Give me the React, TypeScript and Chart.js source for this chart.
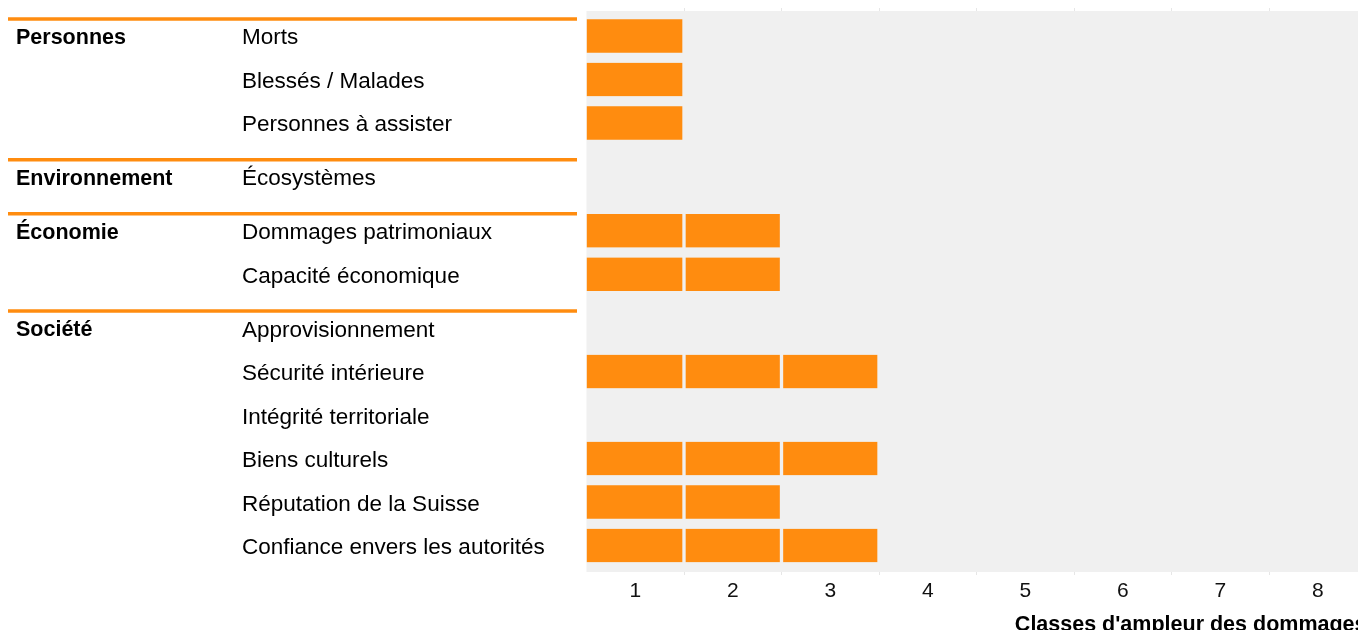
import React, { useEffect, useRef } from "react";
import { Chart, registerables } from "chart.js";

Chart.register(...registerables);

// ---- data ----
const categories = [
  "Morts",
  "Blessés / Malades",
  "Personnes à assister",
  "Écosystèmes",
  "Dommages patrimoniaux",
  "Capacité économique",
  "Approvisionnement",
  "Sécurité intérieure",
  "Intégrité territoriale",
  "Biens culturels",
  "Réputation de la Suisse",
  "Confiance envers les autorités",
];
const groupNames = ["Personnes", "Environnement", "Économie", "Société"];
const groupOfRow = [0, 0, 0, 1, 2, 2, 3, 3, 3, 3, 3, 3];
const damageClass = [1, 1, 1, 0, 2, 2, 0, 3, 0, 3, 2, 3];
const classTicks = ["1", "2", "3", "4", "5", "6", "7", "8"];
const axisTitle = "Classes d'ampleur des dommages";

// ---- style ----
const ORANGE = "#FF8C0F";
const PLOT_BG = "#F0F0F0";
const TICK_GRAY = "#E6E6E6";
const FONT = "'Liberation Sans', Arial, Helvetica, sans-serif";
const GROUP_GAP = 0.24;

const rowPos = categories.map((_, i) => i + GROUP_GAP * groupOfRow[i]);
const maxClass = Math.max(...damageClass);

export default function App() {
  const ref = useRef<HTMLCanvasElement | null>(null);

  useEffect(() => {
    const canvas = ref.current;
    if (!canvas) return;

    const datasets = [] as any[];
    for (let k = 1; k <= maxClass; k++) {
      datasets.push({
        label: "Classe " + k,
        stack: "classes",
        data: categories
          .map((_, i) => (damageClass[i] >= k ? { x: 1, y: rowPos[i] } : null))
          .filter((d) => d !== null),
        backgroundColor: ORANGE,
        borderColor: PLOT_BG,
        borderSkipped: false,
        borderWidth: (ctx: any) => ({
          top: 0,
          bottom: 0,
          left: ctx.datasetIndex === 0 ? 0 : 2,
          right: 2,
        }),
        barThickness: 33.5,
      });
    }

    const bgPlugin = {
      id: "plotBg",
      beforeDraw(chart: any) {
        const { ctx, chartArea } = chart;
        ctx.save();
        ctx.fillStyle = PLOT_BG;
        ctx.fillRect(
          chartArea.left,
          chartArea.top,
          chartArea.right - chartArea.left,
          chartArea.bottom - chartArea.top
        );
        ctx.restore();
      },
    };

    const leftPanel = {
      id: "leftPanel",
      afterDraw(chart: any) {
        const { ctx } = chart;
        const y = chart.scales.y;
        ctx.save();
        groupNames.forEach((g, gi) => {
          const first = groupOfRow.indexOf(gi);
          const cy = y.getPixelForValue(rowPos[first]);
          ctx.strokeStyle = ORANGE;
          ctx.lineWidth = 3.5;
          ctx.beginPath();
          ctx.moveTo(8, cy - 17);
          ctx.lineTo(577, cy - 17);
          ctx.stroke();
          ctx.fillStyle = "#000";
          ctx.font = "bold 21.5px " + FONT;
          ctx.textAlign = "left";
          ctx.textBaseline = "alphabetic";
          ctx.fillText(g, 16, cy + 8);
        });
        ctx.font = "22.5px " + FONT;
        ctx.fillStyle = "#000";
        categories.forEach((c, i) => {
          const cy = y.getPixelForValue(rowPos[i]);
          ctx.fillText(c, 242, cy + 8.5);
        });
        ctx.restore();
      },
    };

    const chart = new Chart(canvas, {
      type: "bar",
      data: { datasets },
      options: {
        indexAxis: "y",
        animation: false,
        responsive: false,
        devicePixelRatio: 1,
        layout: { padding: { left: 586.5, right: 13.5, top: 8, bottom: 2 } },
        plugins: {
          legend: { display: false },
          tooltip: { enabled: false },
        },
        scales: {
          y: {
            type: "linear",
            reverse: true,
            offset: false,
            min: -0.575,
            max: 12.33,
            display: false,
          },
          x: {
            type: "linear",
            position: "bottom",
            stacked: true,
            min: 0,
            max: 8,
            afterBuildTicks: (s: any) => {
              s.ticks = classTicks.map((_, i) => ({ value: i + 0.5 }));
            },
            ticks: {
              callback: (_v: any, i: number) => classTicks[i],
              color: "#111",
              font: { family: FONT, size: 21 },
              padding: 4,
              autoSkip: false,
              maxRotation: 0,
            },
            grid: {
              offset: true,
              drawOnChartArea: false,
              tickLength: 3,
              color: (c: any) =>
                c.type === "tick" && c.index > 0 ? TICK_GRAY : "rgba(0,0,0,0)",
            },
            border: { display: false },
            title: {
              display: true,
              text: axisTitle,
              align: "end",
              color: "#000",
              font: { family: FONT, size: 21.5, weight: "bold" },
              padding: { top: 4, bottom: 0 },
            },
          },
          x2: {
            type: "linear",
            position: "top",
            min: 0,
            max: 8,
            afterBuildTicks: (s: any) => {
              s.ticks = [1, 2, 3, 4, 5, 6, 7].map((v) => ({ value: v }));
            },
            ticks: { display: false },
            grid: { drawOnChartArea: false, tickLength: 3, color: TICK_GRAY },
            border: { display: false },
          },
        },
      },
      plugins: [bgPlugin, leftPanel],
    } as any);

    return () => chart.destroy();
  }, []);

  return (
    <div
      style={{
        position: "absolute",
        left: 0,
        top: 0,
        width: 1358,
        height: 630,
        overflow: "hidden",
        background: "#fff",
      }}
    >
      <canvas
        ref={ref}
        width={1380}
        height={640}
        style={{ width: 1380, height: 640, display: "block" }}
      />
    </div>
  );
}
